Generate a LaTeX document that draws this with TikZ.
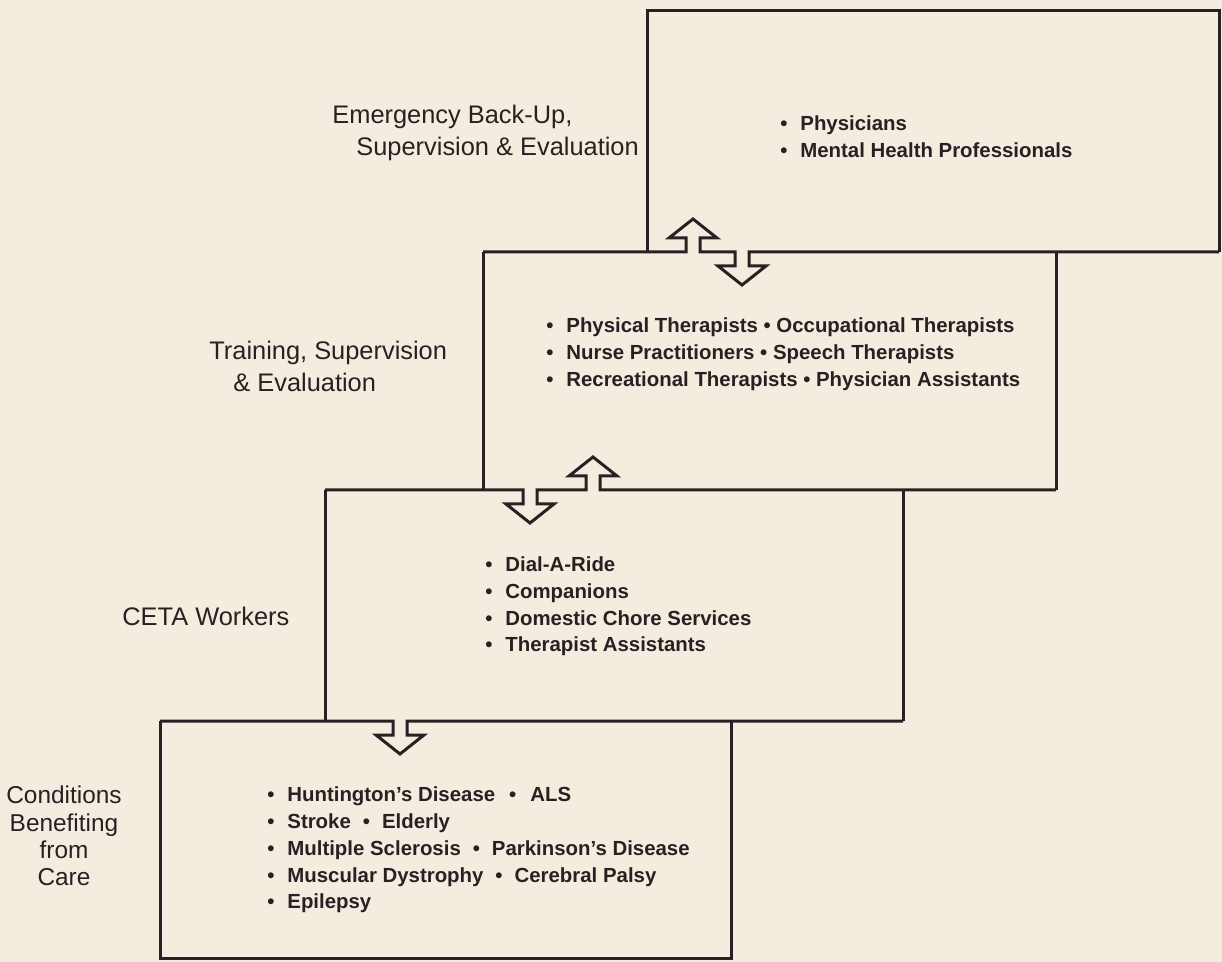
\documentclass[tikz,border=0pt]{standalone}
\usepackage{fontspec}
\setmainfont{Liberation Sans}
\definecolor{bg}{RGB}{243,237,223}
\definecolor{ink}{RGB}{40,33,35}
\newcommand\itm{\makebox[10pt][l]{•}}
\tikzset{
 uparr/.style={insert path={-- ++(0,-14) -- ++(-17,0) -- ++(24,-19) -- ++(24,19) -- ++(-17,0) -- ++(0,14)}},
 downarr/.style={insert path={-- ++(0,14) -- ++(-17,0) -- ++(24,19) -- ++(24,-19) -- ++(-17,0) -- ++(0,-14)}},
 edge/.style={draw=ink, line width=1.5pt, line join=miter},
 items/.style={anchor=west, align=left, inner sep=0pt, text=ink, font=\fontsize{10.2pt}{13.4pt}\selectfont\bfseries},
 lbl/.style={align=left, inner sep=0pt, text=ink, font=\fontsize{12.7pt}{16pt}\selectfont},
}
\begin{document}
\begin{tikzpicture}[x=0.5pt,y=-0.5pt]
\fill[bg] (0,0) rectangle (1222,962);
\useasboundingbox (0,0) rectangle (1222,962);
% box corners
\coordinate (b1a) at (647,11);  \coordinate (b1b) at (1219,252);
\coordinate (b2a) at (483,252); \coordinate (b2b) at (1056,490);
\coordinate (b3a) at (325,490); \coordinate (b3b) at (903,721);
\coordinate (b4a) at (160,721); \coordinate (b4b) at (731,958);
% box 1
\draw[edge] (647,252) -- (b1a) -- (1219,11) -- (b1b);
% boundary 1/2 with arrows
\draw[edge] (b2a) -- (686,252) [uparr] -- (735,252) [downarr] -- (b1b);
% box 2 sides
\draw[edge] (b2a) -- (483,490);
\draw[edge] (1056,252) -- (b2b);
% boundary 2/3 with arrows
\draw[edge] (b3a) -- (523,490) [downarr] -- (586,490) [uparr] -- (b2b);
% box 3 sides
\draw[edge] (b3a) -- (325,721);
\draw[edge] (903,490) -- (b3b);
% boundary 3/4 with arrow
\draw[edge] (b4a) -- (393,721) [downarr] -- (b3b);
% box 4
\draw[edge] (b4a) -- (160,958) -- (b4b) -- (731,721);
% contents
\node[items] (t1) at (780,136.5) {\itm Physicians\\\itm Mental Health Professionals};
\node[items] (t2) at (546,354) {\itm Physical Therapists • Occupational Therapists\\\itm Nurse Practitioners • Speech Therapists\\\itm Recreational Therapists • Physician Assistants};
\node[items] (t3) at (485,606.5) {\itm Dial-A-Ride\\\itm Companions\\\itm Domestic Chore Services\\\itm Therapist Assistants};
\node[items] (t4) at (267,850) {\itm Huntington’s Disease\hspace{7pt}•\hspace{7pt}ALS\\\itm Stroke\hspace{6pt}•\hspace{6pt}Elderly\\\itm Multiple Sclerosis\hspace{6pt}•\hspace{6pt}Parkinson’s Disease\\\itm Muscular Dystrophy\hspace{6pt}•\hspace{6pt}Cerebral Palsy\\\itm Epilepsy};
% labels
\node[lbl, anchor=west] (l1) at (332,133) {Emergency Back-Up,\\\hspace{12pt}Supervision \& Evaluation};
\node[lbl, anchor=west] (l2) at (209,366.5) {Training, Supervision\\\hspace{12pt}\& Evaluation};
\node[lbl, anchor=west] (l3) at (122,616) {CETA Workers};
\node[lbl, align=center, font=\fontsize{12.2pt}{13.7pt}\selectfont] (l4) at (64,836) {Conditions\\Benefiting\\from\\Care};
\end{tikzpicture}
\end{document}
